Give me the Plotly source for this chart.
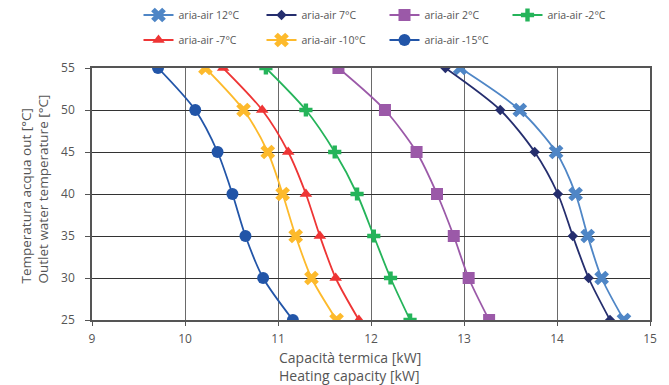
import plotly.graph_objects as go

temps = [55, 50, 45, 40, 35, 30, 25]
series_names = ["aria-air 12°C", "aria-air 7°C", "aria-air 2°C", "aria-air -2°C",
                "aria-air -7°C", "aria-air -10°C", "aria-air -15°C"]
cap_12 = [12.96, 13.60, 13.99, 14.20, 14.33, 14.48, 14.72]
cap_7 = [12.80, 13.39, 13.76, 14.01, 14.17, 14.34, 14.57]
cap_2 = [11.65, 12.15, 12.49, 12.71, 12.89, 13.05, 13.27]
cap_m2 = [10.87, 11.30, 11.61, 11.85, 12.03, 12.21, 12.42]
cap_m7 = [10.41, 10.83, 11.11, 11.30, 11.45, 11.62, 11.87]
cap_m10 = [10.22, 10.63, 10.89, 11.05, 11.19, 11.36, 11.63]
cap_m15 = [9.71, 10.11, 10.35, 10.51, 10.65, 10.84, 11.16]
x_ticks = [9, 10, 11, 12, 13, 14, 15]
y_ticks = [25, 30, 35, 40, 45, 50, 55]
x_title = ["Capacità termica [kW]", "Heating capacity [kW]"]
y_title = ["Temperatura acqua out [°C]", "Outlet water temperature [°C]"]

values = [cap_12, cap_7, cap_2, cap_m2, cap_m7, cap_m10, cap_m15]
colors = ["#4F86C6", "#252E6E", "#9B59A8", "#25B45A", "#EE3535", "#FDBA2C", "#2255A8"]
symbols = ["x", "diamond", "square", "cross", "triangle-up", "x", "circle"]
sizes = [13, 8, 12, 11, 11, 13, 12]

fig = go.Figure()
for i, (name, vals) in enumerate(zip(series_names, values)):
    fig.add_trace(go.Scatter(
        x=vals, y=temps, name=name, mode="lines+markers",
        line=dict(color=colors[i], width=1.8, shape="spline", smoothing=0.8),
        marker=dict(symbol=symbols[i], size=sizes[i], color=colors[i], line=dict(width=0)),
        legend="legend" if i < 4 else "legend2",
    ))

font_family = "Open Sans, Noto Sans, sans-serif"
text_color = "#555555"
legend_common = dict(orientation="h", xref="container", yref="container",
                     xanchor="left", yanchor="middle", entrywidth=78, entrywidthmode="pixels",
                     font=dict(family=font_family, size=10.5, color=text_color),
                     bgcolor="rgba(0,0,0,0)", itemwidth=30, tracegroupgap=0)

# plot area in pixels: x 92..650, y 68..320
L, R, T, B = 92, 650, 68, 320
def px_x(p):
    return (p - L) / (R - L)
def px_y(p):
    return (B - p) / (B - T)

annotations = [
    dict(text="<br>".join(x_title), xref="paper", yref="paper", x=px_x(278), y=px_y(366.5),
         xanchor="left", yanchor="middle", align="left", showarrow=False, borderpad=0,
         font=dict(family=font_family, size=14, color=text_color)),
    dict(text="<br>".join(y_title), xref="paper", yref="paper", x=px_x(34), y=px_y(285),
         xanchor="center", yanchor="bottom", align="left", textangle=-90, showarrow=False,
         borderpad=0, font=dict(family=font_family, size=13.5, color=text_color)),
]

fig.update_layout(
    width=669, height=385,
    margin=dict(l=L, r=669 - R, t=T, b=385 - B),
    paper_bgcolor="white", plot_bgcolor="white",
    font=dict(family=font_family, color=text_color),
    legend=dict(x=138.5 / 669, y=1 - 15 / 385, **legend_common),
    legend2=dict(x=138.5 / 669, y=1 - 40 / 385, **legend_common),
    annotations=annotations,
    xaxis=dict(range=[9, 15], tickvals=x_ticks, showgrid=True, gridcolor="#6a6a6a", gridwidth=1,
               zeroline=False, showline=True, linecolor="#555555", linewidth=1.5, mirror=True,
               ticks="outside", ticklen=4, tickcolor="#555555", ticklabelstandoff=3,
               tickfont=dict(size=12, color=text_color), automargin=False),
    yaxis=dict(range=[25, 55], tickvals=y_ticks, showgrid=True, gridcolor="#333333", gridwidth=1.3,
               zeroline=False, showline=True, linecolor="#555555", linewidth=1.5, mirror=True,
               ticks="outside", ticklen=5, tickcolor="#555555", ticklabelstandoff=8,
               tickfont=dict(size=12, color=text_color), automargin=False),
)

fig.write_html("out.html")
